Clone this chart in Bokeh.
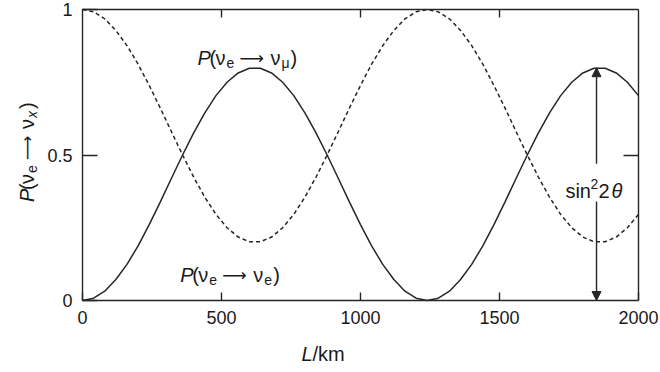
from bokeh.plotting import figure
from bokeh.models import (Label, Arrow, NormalHead, FixedTicker, LinearAxis,
                          NumeralTickFormatter, Range1d, CustomJSTickFormatter)
from bokeh.embed import file_html
from bokeh.resources import INLINE
import math

# ---- data ----
L_km = [0, 40, 80, 120, 160, 200, 240, 280, 320, 360, 400, 440, 480, 520, 560,
        600, 640, 680, 720, 760, 800, 840, 880, 920, 960, 1000, 1040, 1080,
        1120, 1160, 1200, 1240, 1280, 1320, 1360, 1400, 1440, 1480, 1520, 1560,
        1600, 1640, 1680, 1720, 1760, 1800, 1840, 1880, 1920, 1960, 2000]
P_e_mu = [0.000, 0.008, 0.032, 0.072, 0.124, 0.188, 0.261, 0.339, 0.420, 0.500,
          0.576, 0.645, 0.704, 0.750, 0.782, 0.798, 0.798, 0.782, 0.750, 0.704,
          0.645, 0.576, 0.500, 0.420, 0.339, 0.261, 0.188, 0.124, 0.072, 0.032,
          0.008, 0.000, 0.008, 0.032, 0.072, 0.124, 0.188, 0.261, 0.339, 0.420,
          0.500, 0.576, 0.645, 0.704, 0.750, 0.782, 0.798, 0.798, 0.782, 0.750,
          0.704]
P_e_e = [1.000, 0.992, 0.968, 0.928, 0.876, 0.812, 0.739, 0.661, 0.580, 0.500,
         0.424, 0.355, 0.296, 0.250, 0.218, 0.202, 0.202, 0.218, 0.250, 0.296,
         0.355, 0.424, 0.500, 0.580, 0.661, 0.739, 0.812, 0.876, 0.928, 0.968,
         0.992, 1.000, 0.992, 0.968, 0.928, 0.876, 0.812, 0.739, 0.661, 0.580,
         0.500, 0.424, 0.355, 0.296, 0.250, 0.218, 0.202, 0.202, 0.218, 0.250,
         0.296]
x_ticks = [0, 500, 1000, 1500, 2000]
y_ticks = [0, 0.5, 1]
x_min, x_max = 0, 2000
y_min, y_max = 0, 1
amp_L = 1849          # position of the sin^2 2theta arrow
amp_value = 0.8       # sin^2 2theta

INK = "#262626"
FONT = "Liberation Sans"
ARROW_FONT = "DejaVu Sans"

# pixel layout: the data box spans canvas x 82..638, y 9..300
W, H = 660, 372
BOX_L, BOX_R, BOX_T, BOX_B = 82, 638, 9, 300
kx = (x_max - x_min) / (BOX_R - BOX_L)
ky = (y_max - y_min) / (BOX_B - BOX_T)

p = figure(width=W, height=H, output_backend="svg", toolbar_location=None,
           x_range=Range1d(x_min - BOX_L * kx, x_max + (W - BOX_R) * kx),
           y_range=Range1d(y_min - (H - BOX_B) * ky, y_max + BOX_T * ky),
           min_border=0, min_border_left=0, min_border_right=0,
           min_border_top=0, min_border_bottom=0, x_axis_location=None,
           y_axis_location=None)
p.background_fill_color = "white"
p.border_fill_color = "white"
p.outline_line_color = None
p.xgrid.visible = False
p.ygrid.visible = False

p.line(L_km, P_e_mu, line_color=INK, line_width=1.5)
p.line(L_km, P_e_e, line_color=INK, line_width=1.5, line_dash="4 3")

blank = CustomJSTickFormatter(code="return ''")

def make_axis(place, loc, bounds, ticks, tick_len, show_labels=True):
    ax = LinearAxis(fixed_location=loc, bounds=bounds)
    ax.ticker = FixedTicker(ticks=ticks)
    ax.major_tick_in = tick_len
    ax.major_tick_out = 0
    ax.minor_tick_in = 0
    ax.minor_tick_out = 0
    ax.axis_line_color = INK
    ax.axis_line_width = 1.4
    ax.major_tick_line_color = INK
    ax.major_tick_line_width = 1.4
    if show_labels:
        ax.major_label_text_font = FONT
        ax.major_label_text_font_size = "18px"
        ax.major_label_text_color = "#1a1a1a"
        ax.major_label_standoff = 10
    else:
        ax.formatter = blank
    p.add_layout(ax, place)
    return ax

make_axis("below", y_min, (x_min, x_max), x_ticks, 8)
yax = make_axis("left", x_min, (y_min, y_max), y_ticks, 15)
yax.formatter = NumeralTickFormatter(format="0.[0]")
make_axis("above", y_max, (x_min, x_max), x_ticks[1:-1], 8, show_labels=False)
make_axis("right", x_max, (y_min, y_max), [0.5], 15, show_labels=False)

def rich(x, y, pieces, angle=0.0, base_dx=0, base_dy=0):
    for text, dx, dy, style, size, font in pieces:
        if angle == 0:
            xo, yo = base_dx + dx, base_dy + dy
        else:
            xo, yo = base_dx - dy, base_dy + dx
        p.add_layout(Label(x=x, y=y, x_offset=xo, y_offset=yo, text=text,
                           text_font=font, text_font_style=style,
                           text_font_size=f"{size}px", text_color="#1a1a1a",
                           text_align="left", text_baseline="alphabetic",
                           angle=angle))

def prob(target, italic_target=False):
    tstyle = "italic" if italic_target else "normal"
    return [("P", 0, 0, "italic", 20, FONT), ("(", 12, 0, "normal", 20, FONT),
            ("ν", 18, 0, "normal", 20, FONT), ("e", 29, -5, "normal", 14, FONT),
            ("⟶", 42, 0, "normal", 17, ARROW_FONT), ("ν", 73, 0, "normal", 20, FONT),
            (target, 84, -5, tstyle, 14, FONT), (")", 93, 0, "normal", 20, FONT)]

rich(414, 0.835, prob("μ"))
rich(352, 0.086, prob("e"))
# y-axis title (rotated)
rich(-198, 0.5, prob("x", italic_target=True), angle=math.pi / 2, base_dy=-47)
# x-axis title
rich(788, 0.0, [("L", 0, 0, "italic", 20, FONT), ("/km", 11, 0, "normal", 20, FONT)],
     base_dy=-53)
# sin^2 2theta
rich(1737, 0.378, [("sin", 0, 0, "normal", 20, FONT), ("2", 25, 7, "normal", 14, FONT),
                   ("2", 33, 0, "normal", 20, FONT), ("θ", 46, 0, "italic", 20, FONT)])

head = lambda: NormalHead(size=9, fill_color=INK, line_color=INK, line_width=1)
p.add_layout(Arrow(end=head(), x_start=amp_L, y_start=0.47, x_end=amp_L,
                   y_end=amp_value, line_color=INK, line_width=1.4))
p.add_layout(Arrow(end=head(), x_start=amp_L, y_start=0.34, x_end=amp_L,
                   y_end=0.0, line_color=INK, line_width=1.4))

open("out.html", "w").write(file_html(p, INLINE))
